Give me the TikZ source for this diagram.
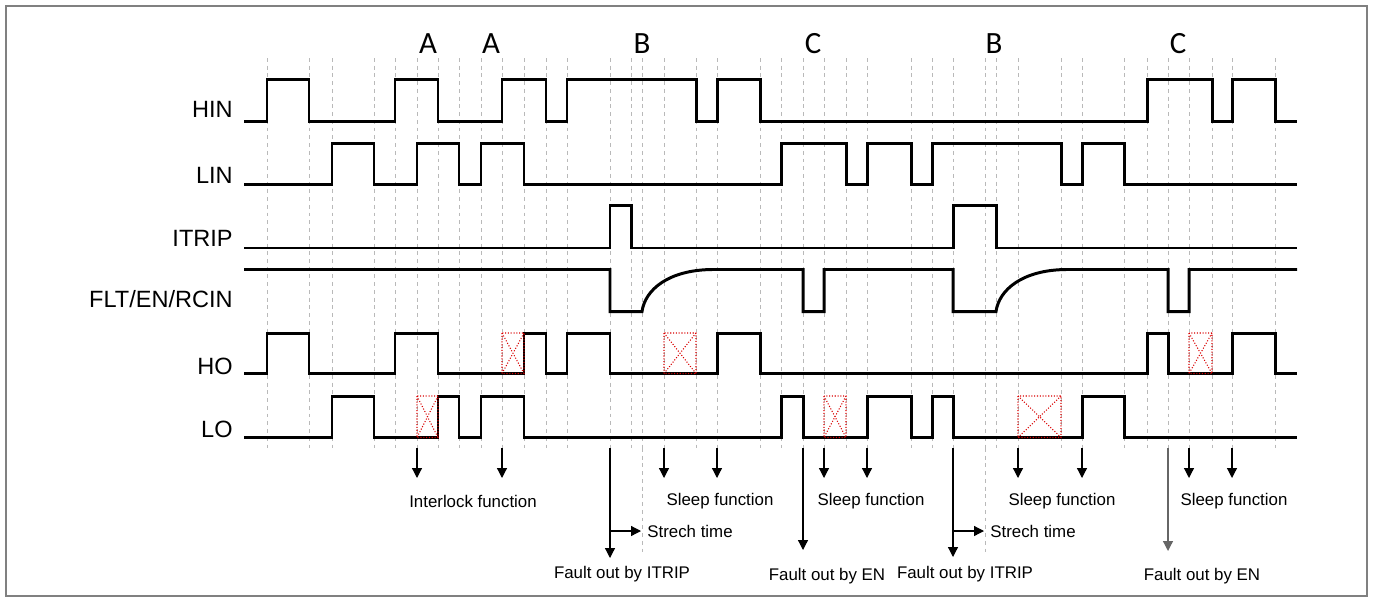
\documentclass[tikz,border=0pt]{standalone}
\usepackage{fontspec}
\setmainfont{Liberation Sans}
\newfontfamily\calibrifont{Carlito}
\usetikzlibrary{arrows.meta}

\begin{document}
\begin{tikzpicture}[x=0.02cm, y=-0.02cm,
	wave/.style={line width=1.7pt, line join=miter},
	gridline/.style={gray!55, dash pattern=on 2.2pt off 2.2pt, line width=0.5pt},
	xbox/.style={red!85!black, densely dotted, line width=0.6pt},
	signame/.style={anchor=east, inner sep=0pt, font=\fontsize{13.4}{15}\selectfont},
	case/.style={inner sep=0pt, font=\calibrifont\fontsize{17.6}{20}\selectfont},
	note/.style={inner sep=0pt, font=\fontsize{9.6}{11}\selectfont},
	pointer/.style={-{Triangle[length=0.2cm, width=0.2cm]}, line width=0.7pt}]

	\useasboundingbox (0,0) rectangle (1373,599);
	\draw[gray, line width=0.9pt] (6,6) rectangle (1367,596);

	% time grid
	\foreach \gx in {267,309,332,374,395,417,438,459,481,502,524,546,567,610,631,642,664,696,717,760,781,803,824,846,867,911,932,953,985,996,1018,1061,1082,1124,1147,1168,1189,1212,1232,1275}
		\draw[gridline] (\gx,58) -- (\gx,448);
	\draw[gridline] (642,448) -- (642,553);
	\draw[gridline] (985,448) -- (985,553);

	% cases
	\node (a1) [case] at (428,44) {A};
	\node (a2) [case] at (491,44) {A};
	\node (b1) [case] at (642,44) {B};
	\node (c1) [case] at (813,44) {C};
	\node (b2) [case] at (994,44) {B};
	\node (c2) [case] at (1178,44) {C};

	% signal names
	\node (hin) [signame] at (233,109) {HIN};
	\node (lin) [signame] at (233,175) {LIN};
	\node (itrip) [signame] at (233,238) {ITRIP};
	\node (flt) [signame] at (233,299) {FLT/EN/RCIN};
	\node (ho) [signame] at (233,366) {HO};
	\node (lo) [signame] at (233,429) {LO};

	% waveforms
	\draw[wave] (244,121.5) -| (267,79.5) -| (309,121.5) -| (395,79.5) -| (438,121.5) -| (502,79.5) -| (546,121.5) -| (567,79.5) -| (696,121.5) -| (717,79.5) -| (760,121.5) -| (1147,79.5) -| (1212,121.5) -| (1232,79.5) -| (1275,121.5) -- (1297,121.5);
	\draw[wave] (244,184.5) -| (332,143.5) -| (374,184.5) -| (417,143.5) -| (459,184.5) -| (481,143.5) -| (524,184.5) -| (781,143.5) -| (846,184.5) -| (867,143.5) -| (911,184.5) -| (932,143.5) -| (1061,184.5) -| (1082,143.5) -| (1124,184.5) -- (1297,184.5);
	\draw[wave] (244,248) -| (610,205.5) -| (631,248) -| (953,205.5) -| (996,248) -- (1297,248);
	\draw[wave] (244,269.5) -| (610,311.5) -- (642,311.5) .. controls (645,290) and (668,270) .. (712,269.5) -| (803,311.5) -| (824,269.5) -| (953,311.5) -- (996,311.5) .. controls (999,290) and (1022,270) .. (1066,269.5) -| (1168,311.5) -| (1189,269.5) -- (1297,269.5);
	\draw[wave] (244,373.5) -| (267,333) -| (309,373.5) -| (395,333) -| (438,373.5) -| (524,333) -| (546,373.5) -| (567,333) -| (610,373.5) -| (717,333) -| (760,373.5) -| (1147,333) -| (1168,373.5) -| (1232,333) -| (1275,373.5) -- (1297,373.5);
	\draw[wave] (244,437.5) -| (332,396) -| (374,437.5) -| (438,396) -| (459,437.5) -| (481,396) -| (524,437.5) -| (781,396) -| (803,437.5) -| (867,396) -| (911,437.5) -| (932,396) -| (953,437.5) -| (1082,396) -| (1124,437.5) -- (1297,437.5);

	% blocked pulses
	\draw[xbox] (502,333) rectangle (524,373.5) (502,333) -- (524,373.5) (524,333) -- (502,373.5);
	\draw[xbox] (664,333) rectangle (696,373.5) (664,333) -- (696,373.5) (696,333) -- (664,373.5);
	\draw[xbox] (1189,333) rectangle (1212,373.5) (1189,333) -- (1212,373.5) (1212,333) -- (1189,373.5);
	\draw[xbox] (417,396) rectangle (438,437.5) (417,396) -- (438,437.5) (438,396) -- (417,437.5);
	\draw[xbox] (824,396) rectangle (846,437.5) (824,396) -- (846,437.5) (846,396) -- (824,437.5);
	\draw[xbox] (1018,396) rectangle (1061,437.5) (1018,396) -- (1061,437.5) (1061,396) -- (1018,437.5);

	% notes
	\node (interlock) [note] at (473,501) {Interlock function};
	\node (sleep1) [note] at (720,501) {Sleep function};
	\node (sleep2) [note] at (871,501) {Sleep function};
	\node (sleep3) [note] at (1062,501) {Sleep function};
	\node (sleep4) [note] at (1234,501) {Sleep function};
	\node (stretch1) [note, anchor=west] at (647,531) {Strech time};
	\node (stretch2) [note, anchor=west] at (990,531) {Strech time};
	\node (fault1) [note] at (622,574) {Fault out by ITRIP};
	\node (fault2) [note] at (827,576) {Fault out by EN};
	\node (fault3) [note] at (965,574) {Fault out by ITRIP};
	\node (fault4) [note] at (1202,576) {Fault out by EN};

	% pointer ends
	\coordinate (t1) at (417,448);  \coordinate (e1) at (417,478);
	\coordinate (t2) at (502,448);  \coordinate (e2) at (502,478);
	\coordinate (t3) at (610,448);  \coordinate (e3) at (610,558);
	\coordinate (t4) at (664,448);  \coordinate (e4) at (664,478);
	\coordinate (t5) at (717,448);  \coordinate (e5) at (717,478);
	\coordinate (t6) at (803,448);  \coordinate (e6) at (803,550);
	\coordinate (t7) at (824,448);  \coordinate (e7) at (824,478);
	\coordinate (t8) at (867,448);  \coordinate (e8) at (867,478);
	\coordinate (t9) at (953,448);  \coordinate (e9) at (953,557);
	\coordinate (t10) at (1018,448); \coordinate (e10) at (1018,478);
	\coordinate (t11) at (1082,448); \coordinate (e11) at (1082,478);
	\coordinate (t12) at (1168,448); \coordinate (e12) at (1168,551);
	\coordinate (t13) at (1189,448); \coordinate (e13) at (1189,478);
	\coordinate (t14) at (1232,448); \coordinate (e14) at (1232,478);
	\coordinate (s1) at (610,531);  \coordinate (s1e) at (641,531);
	\coordinate (s2) at (953,531);  \coordinate (s2e) at (984,531);

	\path[pointer]
	(t1) edge (e1)
	(t2) edge (e2)
	(t3) edge (e3)
	(t4) edge (e4)
	(t5) edge (e5)
	(t6) edge (e6)
	(t7) edge (e7)
	(t8) edge (e8)
	(t9) edge (e9)
	(t10) edge (e10)
	(t11) edge (e11)
	(t12) edge[black!60] (e12)
	(t13) edge (e13)
	(t14) edge (e14)
	(s1) edge (s1e)
	(s2) edge (s2e);

\end{tikzpicture}
\end{document}
